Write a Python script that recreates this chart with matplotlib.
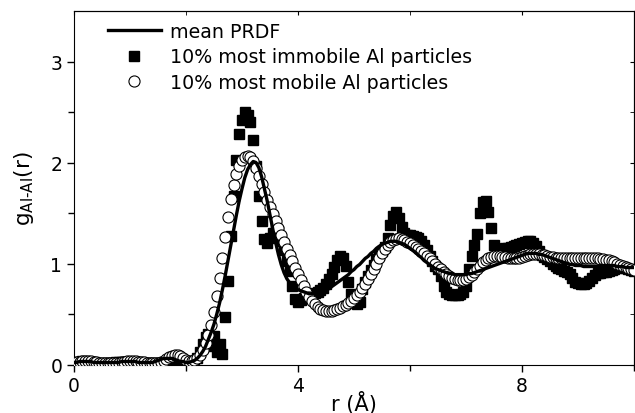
import numpy as np
import matplotlib
matplotlib.use('Agg')
import matplotlib.pyplot as plt

plt.rcParams['font.family'] = ['DejaVu Sans']
plt.rcParams['mathtext.fontset'] = 'dejavusans'

# r grid (Angstrom), 0.05 step
r = np.arange(201) * 0.05

# mean PRDF (line)
g_mean = [
    0.02, 0.02, 0.03, 0.03, 0.03, 0.03, 0.03, 0.02, 0.02, 0.02, 0.02, 0.02, 0.02, 0.02, 0.02, 0.02, 0.02, 0.03, 0.03, 0.03,
    0.03, 0.03, 0.03, 0.02, 0.02, 0.02, 0.02, 0.02, 0.02, 0.03, 0.04, 0.05, 0.06, 0.06, 0.06, 0.06, 0.05, 0.04, 0.03, 0.03,
    0.02, 0.02, 0.03, 0.04, 0.06, 0.09, 0.13, 0.18, 0.25, 0.32, 0.40, 0.50, 0.61, 0.74, 0.88, 1.03, 1.18, 1.33, 1.48, 1.62,
    1.74, 1.85, 1.93, 1.98, 2.01, 2.00, 1.95, 1.86, 1.74, 1.62, 1.48, 1.34, 1.21, 1.09, 0.99, 0.91, 0.85, 0.81, 0.78, 0.76,
    0.74, 0.73, 0.72, 0.71, 0.70, 0.70, 0.70, 0.70, 0.71, 0.72, 0.74, 0.75, 0.77, 0.79, 0.81, 0.83, 0.85, 0.87, 0.89, 0.92,
    0.94, 0.97, 0.99, 1.02, 1.05, 1.07, 1.10, 1.12, 1.15, 1.17, 1.19, 1.20, 1.21, 1.22, 1.22, 1.22, 1.21, 1.20, 1.19, 1.17,
    1.15, 1.13, 1.11, 1.08, 1.06, 1.03, 1.01, 0.99, 0.97, 0.95, 0.94, 0.93, 0.92, 0.91, 0.90, 0.90, 0.89, 0.89, 0.89, 0.89,
    0.89, 0.90, 0.90, 0.91, 0.92, 0.93, 0.94, 0.95, 0.96, 0.97, 0.98, 0.99, 1.00, 1.01, 1.02, 1.03, 1.04, 1.05, 1.06, 1.07,
    1.08, 1.09, 1.10, 1.10, 1.10, 1.10, 1.09, 1.09, 1.08, 1.07, 1.06, 1.05, 1.04, 1.03, 1.02, 1.01, 1.00, 0.99, 0.99, 0.98,
    0.98, 0.98, 0.97, 0.97, 0.97, 0.97, 0.97, 0.97, 0.98, 0.98, 0.98, 0.98, 0.98, 0.98, 0.97, 0.97, 0.97, 0.96, 0.96, 0.96,
    0.96]

# 10% most immobile Al particles (filled squares)
g_immobile = [
    0.02, 0.02, 0.02, 0.03, 0.03, 0.02, 0.02, 0.02, 0.01, 0.01, 0.01, 0.01, 0.01, 0.01, 0.01, 0.02, 0.02, 0.02, 0.02, 0.02,
    0.02, 0.02, 0.02, 0.02, 0.02, 0.01, 0.01, 0.01, 0.01, 0.01, 0.01, 0.01, 0.01, 0.02, 0.02, 0.02, 0.02, 0.02, 0.02, 0.02,
    0.02, 0.02, 0.02, 0.03, 0.06, 0.12, 0.20, 0.27, 0.30, 0.18, 0.28, 0.12, 0.20, 0.10, 0.47, 0.83, 1.27, 1.67, 2.02, 2.28,
    2.42, 2.50, 2.47, 2.40, 2.22, 1.97, 1.67, 1.42, 1.24, 1.20, 1.25, 1.30, 1.35, 1.32, 1.22, 1.13, 1.02, 0.93, 0.78, 0.65,
    0.62, 0.64, 0.66, 0.68, 0.70, 0.70, 0.71, 0.72, 0.74, 0.76, 0.80, 0.85, 0.90, 0.97, 1.03, 1.07, 1.05, 0.98, 0.82, 0.70,
    0.63, 0.60, 0.62, 0.75, 0.82, 0.88, 0.94, 0.99, 1.04, 1.08, 1.12, 1.16, 1.25, 1.38, 1.47, 1.51, 1.45, 1.36, 1.30, 1.28,
    1.28, 1.27, 1.26, 1.25, 1.22, 1.18, 1.13, 1.07, 1.02, 0.98, 0.95, 0.88, 0.78, 0.72, 0.70, 0.69, 0.69, 0.69, 0.70, 0.72,
    0.78, 0.95, 1.07, 1.18, 1.29, 1.50, 1.61, 1.62, 1.51, 1.35, 1.18, 1.12, 1.13, 1.14, 1.15, 1.15, 1.16, 1.17, 1.18, 1.19,
    1.20, 1.21, 1.22, 1.22, 1.20, 1.17, 1.12, 1.08, 1.06, 1.04, 1.02, 1.00, 0.98, 0.96, 0.95, 0.93, 0.92, 0.90, 0.86, 0.82,
    0.81, 0.80, 0.80, 0.81, 0.83, 0.86, 0.89, 0.91, 0.91, 0.92, 0.92, 0.93, 0.94, 0.95, 0.96, 0.97, 0.97, 0.96, 0.95, 0.94,
    0.93]

# 10% most mobile Al particles (open circles)
g_mobile = [
    0.01, 0.02, 0.02, 0.03, 0.03, 0.03, 0.03, 0.02, 0.02, 0.01, 0.01, 0.01, 0.01, 0.01, 0.01, 0.01, 0.01, 0.02, 0.02, 0.03,
    0.03, 0.03, 0.03, 0.02, 0.02, 0.02, 0.01, 0.01, 0.01, 0.01, 0.01, 0.02, 0.03, 0.05, 0.07, 0.08, 0.09, 0.09, 0.08, 0.06,
    0.04, 0.03, 0.03, 0.04, 0.06, 0.09, 0.14, 0.21, 0.29, 0.39, 0.52, 0.68, 0.86, 1.05, 1.26, 1.46, 1.64, 1.78, 1.89, 1.97,
    2.02, 2.05, 2.06, 2.05, 2.01, 1.95, 1.87, 1.79, 1.71, 1.63, 1.56, 1.49, 1.42, 1.35, 1.28, 1.21, 1.14, 1.08, 1.02, 0.96,
    0.90, 0.84, 0.78, 0.72, 0.67, 0.63, 0.60, 0.57, 0.55, 0.54, 0.53, 0.53, 0.53, 0.54, 0.55, 0.56, 0.58, 0.59, 0.61, 0.63,
    0.66, 0.69, 0.72, 0.76, 0.80, 0.85, 0.90, 0.95, 1.00, 1.05, 1.10, 1.14, 1.18, 1.21, 1.23, 1.24, 1.25, 1.24, 1.23, 1.21,
    1.20, 1.18, 1.16, 1.14, 1.12, 1.10, 1.07, 1.05, 1.02, 1.00, 0.97, 0.95, 0.92, 0.90, 0.88, 0.86, 0.85, 0.84, 0.84, 0.84,
    0.85, 0.87, 0.89, 0.92, 0.95, 0.98, 1.01, 1.03, 1.05, 1.06, 1.07, 1.07, 1.07, 1.06, 1.06, 1.05, 1.05, 1.05, 1.05, 1.05,
    1.06, 1.07, 1.08, 1.09, 1.09, 1.09, 1.09, 1.08, 1.08, 1.07, 1.06, 1.06, 1.05, 1.05, 1.05, 1.05, 1.05, 1.05, 1.05, 1.05,
    1.05, 1.05, 1.05, 1.05, 1.05, 1.05, 1.05, 1.05, 1.04, 1.04, 1.03, 1.03, 1.02, 1.01, 1.00, 0.99, 0.98, 0.97, 0.96, 0.95,
    0.94]

fig = plt.figure(figsize=(6.35, 4.14), dpi=100)
ax = fig.add_axes([74 / 635, 48.5 / 414, 560 / 635, 353.5 / 414])

l1, = ax.plot(r, g_mean, color='black', lw=2.4, zorder=4, label='mean PRDF')
l2, = ax.plot(r, g_immobile, ls='none', marker='s', ms=7.5, mfc='black', mec='black',
              zorder=2, label='10% most immobile Al particles')
l3, = ax.plot(r, g_mobile, ls='none', marker='o', ms=8, mfc='white', mec='black',
              mew=0.8, zorder=3, label='10% most mobile Al particles')

ax.set_xlim(0, 10)
ax.set_ylim(0, 3.5)
ax.set_xticks([0, 4, 8])
ax.set_xticks([2, 6, 10], minor=True)
ax.set_yticks([0, 1, 2, 3])
ax.set_yticks([0.5, 1.5, 2.5], minor=True)
ax.tick_params(which='both', direction='out', labelsize=13.5, width=1)
ax.tick_params(which='major', length=5)
ax.tick_params(which='minor', length=4)

# top / right ticks pointing inwards, no labels
top = ax.secondary_xaxis('top')
top.set_xticks([0, 4, 8])
top.set_xticks([2, 6, 10], minor=True)
top.tick_params(which='both', direction='in', labeltop=False, length=3)
right = ax.secondary_yaxis('right')
right.set_yticks([0, 1, 2, 3])
right.set_yticks([0.5, 1.5, 2.5], minor=True)
right.tick_params(which='both', direction='in', labelright=False, length=3)

ax.set_xlabel('r (Å)', fontsize=15)
ax.xaxis.set_label_coords(0.5, -0.075)
ax.set_ylabel(r'g$_{\mathrm{Al\text{-}Al}}$(r)', fontsize=15.5)
ax.yaxis.set_label_coords(-0.068, 0.5)

ax.legend(handles=[l1, l2, l3], loc='upper left', bbox_to_anchor=(0.05, 0.985),
          frameon=False, fontsize=13.7, handlelength=2.8, handletextpad=0.5,
          labelspacing=0.33, borderaxespad=0.0, borderpad=0.3)

fig.savefig('out.png', dpi=100)
